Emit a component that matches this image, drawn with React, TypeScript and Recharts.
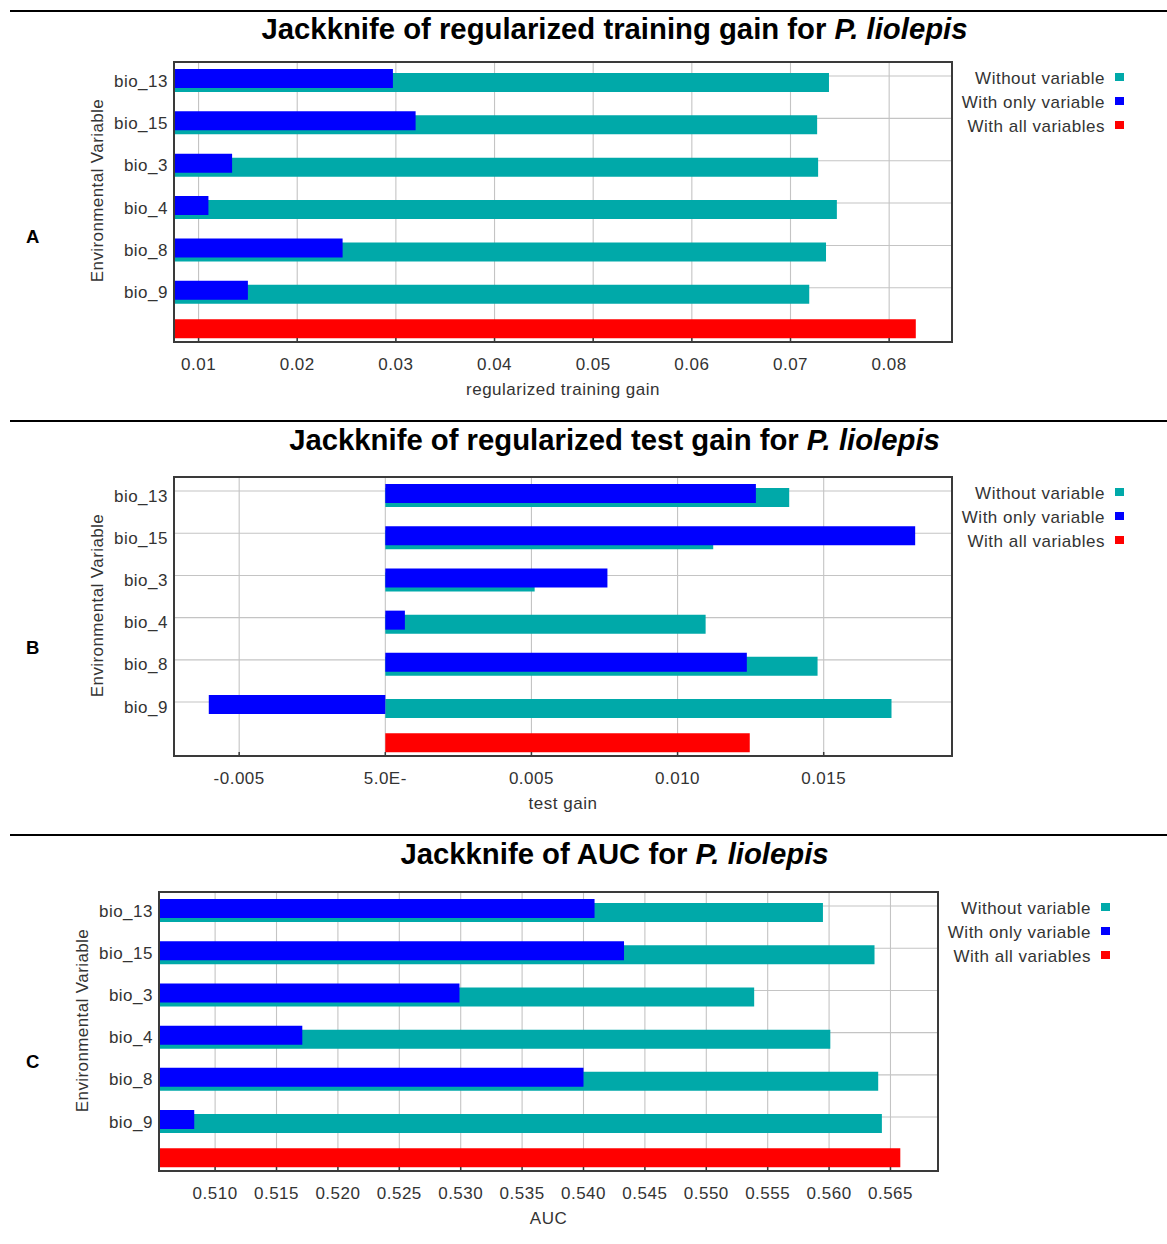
import { BarChart, Bar, XAxis, YAxis, CartesianGrid, Legend, Label } from 'recharts'

const FONT = '"Liberation Sans", Arial, Helvetica, sans-serif'
const INK = '#333333'
const GRID = '#c4c4c4'
const FRAME = '#3a3a3a'

const variables = ['bio_13', 'bio_15', 'bio_3', 'bio_4', 'bio_8', 'bio_9']
const seriesNames = ['Without variable', 'With only variable', 'With all variables']
const seriesColors = ['#00a9a9', '#0000ff', '#ff0000']

// A: regularized training gain
const trainingWithout = [0.0739, 0.0727, 0.0728, 0.0747, 0.0736, 0.0719]
const trainingOnly = [0.0297, 0.032, 0.0134, 0.011, 0.0246, 0.015]
const trainingAll = 0.0827
const trainingTicks = [0.01, 0.02, 0.03, 0.04, 0.05, 0.06, 0.07, 0.08]

// B: test gain
const testWithout = [0.01382, 0.01122, 0.00511, 0.01096, 0.01479, 0.01732]
const testOnly = [0.01268, 0.01813, 0.0076, 0.00067, 0.01237, -0.00604]
const testAll = 0.01247
const testTicks = [-0.005, 0, 0.005, 0.01, 0.015]

// C: AUC
const aucWithout = [0.5595, 0.5637, 0.5539, 0.5601, 0.564, 0.5643]
const aucOnly = [0.5409, 0.5433, 0.5299, 0.5171, 0.54, 0.5083]
const aucAll = 0.5658
const aucTicks = [0.51, 0.515, 0.52, 0.525, 0.53, 0.535, 0.54, 0.545, 0.55, 0.555, 0.56, 0.565]

const ALL_ROW = 'all'

// layout
const PAGE_W = 1167
const PAGE_H = 1244
const PLOT_TOP = 62
const Y_AXIS_W = 80
const X_AXIS_H = 60
const BAR_SIZE = 19
const BAR_GAP = -23
const PAD_TOP = -5
const PAD_BOTTOM = -11.5
const separators = [10, 420, 834]

type Row = { name: string; without: number | null; only: number | null; all: number | null }

function buildRows(without: number[], only: number[], all: number): Row[] {
  const rows: Row[] = variables.map((name, i) => ({ name, without: without[i], only: only[i], all: null }))
  rows.push({ name: ALL_ROW, without: null, only: null, all })
  return rows
}

function JackknifeLegend(props: any) {
  const items = [...(props.payload ?? [])].sort(
    (a, b) => seriesNames.indexOf(a.value) - seriesNames.indexOf(b.value),
  )
  return (
    <div style={{ fontFamily: FONT, fontSize: 17, letterSpacing: 0.5, color: INK }}>
      {items.map((item) => (
        <div
          key={item.value}
          style={{ display: 'flex', justifyContent: 'flex-end', height: 24, lineHeight: '24px', whiteSpace: 'nowrap' }}
        >
          <span>{item.value}</span>
          <span style={{ width: 9, height: 8, marginTop: 6, marginLeft: 10, background: item.color, flex: 'none' }} />
        </div>
      ))}
    </div>
  )
}

interface PanelProps {
  letter: string
  titleStart: string
  chartTop: number
  titleBaseline: number
  letterTop: number
  plotLeft: number
  plotRight: number
  plotHeight: number
  rows: Row[]
  domain: [number, number]
  ticks: number[]
  formatTick: (v: number) => string
  xTitle: string
}

function Panel(p: PanelProps) {
  const height = PLOT_TOP + p.plotHeight + X_AXIS_H + 8
  const plotW = p.plotRight - p.plotLeft
  const band = (p.plotHeight - PAD_TOP - PAD_BOTTOM) / p.rows.length
  const slot = Math.floor((band - (3 * BAR_SIZE + 2 * BAR_GAP)) / 2)
  const lineInBand = slot + BAR_SIZE + BAR_GAP + 8
  const gridYs = variables.map((_, i) => PLOT_TOP + PAD_TOP + i * band + lineInBand)
  const shift = lineInBand - band / 2
  const tickPadding = { top: PAD_TOP + shift, bottom: PAD_BOTTOM - shift }
  const smallText = { fill: INK, fontSize: 17, fontFamily: FONT, letterSpacing: 0.5 }

  return (
    <div style={{ position: 'absolute', left: 0, top: p.chartTop, width: PAGE_W, height }}>
      <div
        style={{
          position: 'absolute',
          left: 0,
          width: 1229,
          top: p.titleBaseline - 24.8,
          textAlign: 'center',
          font: `bold 29.3px/29.3px ${FONT}`,
          color: '#000',
          whiteSpace: 'nowrap',
        }}
      >
        {p.titleStart} <i>P. liolepis</i>
      </div>
      <div
        style={{
          position: 'absolute',
          left: 22.7,
          width: 20,
          top: p.letterTop,
          textAlign: 'center',
          font: `bold 18.5px/18.5px ${FONT}`,
          color: '#000',
        }}
      >
        {p.letter}
      </div>
      <BarChart
        width={PAGE_W}
        height={height}
        data={p.rows}
        layout="vertical"
        barSize={BAR_SIZE}
        barGap={BAR_GAP}
        margin={{ top: PLOT_TOP, right: PAGE_W - p.plotRight, bottom: 8, left: p.plotLeft - Y_AXIS_W }}
      >
        <CartesianGrid stroke={GRID} strokeWidth={1.1} horizontalPoints={gridYs} />
        <XAxis
          type="number"
          domain={p.domain}
          ticks={p.ticks}
          allowDataOverflow
          interval={0}
          height={X_AXIS_H}
          axisLine={false}
          tickSize={-4}
          tickMargin={20}
          tickLine={{ stroke: FRAME, strokeWidth: 1.5 }}
          tick={(tp: any) => (
            <text x={tp.x} y={tp.y} dy="0.71em" textAnchor="middle" {...smallText}>
              {p.formatTick(tp.payload.value)}
            </text>
          )}
        >
          <Label
            content={(lp: any) => {
              const vb = lp.viewBox
              return (
                <text x={vb.x + vb.width / 2} y={vb.y + 52.5} textAnchor="middle" {...smallText}>
                  {p.xTitle}
                </text>
              )
            }}
          />
        </XAxis>
        <XAxis
          xAxisId="top"
          orientation="top"
          mirror
          type="number"
          domain={p.domain}
          ticks={p.ticks}
          allowDataOverflow
          interval={0}
          axisLine={false}
          tick={false}
          tickSize={4}
          tickLine={{ stroke: FRAME, strokeWidth: 1.5 }}
        />
        <YAxis
          type="category"
          dataKey="name"
          width={Y_AXIS_W}
          padding={{ top: PAD_TOP, bottom: PAD_BOTTOM }}
          axisLine={false}
          tickLine={false}
          tickSize={0}
          tickMargin={6}
          interval={0}
          tick={(tp: any) => (
            <text x={tp.x} y={tp.y + 2.5} dy="0.355em" textAnchor="end" {...smallText}>
              {tp.payload.value === ALL_ROW ? '' : tp.payload.value}
            </text>
          )}
        >
          <Label
            content={(lp: any) => {
              const vb = lp.viewBox
              const cx = vb.x + vb.width - 77.3
              const cy = vb.y + 128.5
              return (
                <text
                  x={cx}
                  y={cy}
                  dy="0.36em"
                  textAnchor="middle"
                  transform={`rotate(-90 ${cx} ${cy})`}
                  {...smallText}
                  letterSpacing={0.4}
                >
                  Environmental Variable
                </text>
              )
            }}
          />
        </YAxis>
        <YAxis
          yAxisId="left-ticks"
          mirror
          type="category"
          dataKey="name"
          ticks={variables}
          padding={tickPadding}
          axisLine={false}
          tick={false}
          tickSize={6}
          tickLine={{ stroke: FRAME, strokeWidth: 1.5 }}
          interval={0}
        />
        <YAxis
          yAxisId="right-ticks"
          orientation="right"
          mirror
          type="category"
          dataKey="name"
          ticks={variables}
          padding={tickPadding}
          axisLine={false}
          tick={false}
          tickSize={6}
          tickLine={{ stroke: FRAME, strokeWidth: 1.5 }}
          interval={0}
        />
        <Bar dataKey="without" name={seriesNames[0]} fill={seriesColors[0]} isAnimationActive={false} />
        <Bar dataKey="only" name={seriesNames[1]} fill={seriesColors[1]} isAnimationActive={false} />
        <Bar dataKey="all" name={seriesNames[2]} fill={seriesColors[2]} isAnimationActive={false} />
        <Legend
          layout="vertical"
          align="center"
          verticalAlign="middle"
          wrapperStyle={{ left: p.plotRight + 20, top: PLOT_TOP + 4.5, width: 152, margin: 0 }}
          content={JackknifeLegend}
        />
      </BarChart>
      <div
        style={{
          position: 'absolute',
          left: p.plotLeft - 1,
          top: PLOT_TOP - 1,
          width: plotW + 2,
          height: p.plotHeight + 2,
          border: `2px solid ${FRAME}`,
          boxSizing: 'border-box',
          pointerEvents: 'none',
        }}
      />
    </div>
  )
}

export default function App() {
  return (
    <div style={{ position: 'absolute', left: 0, top: 0, width: PAGE_W, height: PAGE_H, background: '#fff' }}>
      <Panel
        letter="A"
        titleStart="Jackknife of regularized training gain for"
        chartTop={0}
        titleBaseline={38.3}
        letterTop={227.6}
        plotLeft={174}
        plotRight={952}
        plotHeight={280}
        rows={buildRows(trainingWithout, trainingOnly, trainingAll)}
        domain={[0.00751, 0.08637]}
        ticks={trainingTicks}
        formatTick={(v) => v.toFixed(2)}
        xTitle="regularized training gain"
      />
      <Panel
        letter="B"
        titleStart="Jackknife of regularized test gain for"
        chartTop={415}
        titleBaseline={34.3}
        letterTop={224.3}
        plotLeft={174}
        plotRight={952}
        plotHeight={279}
        rows={buildRows(testWithout, testOnly, testAll)}
        domain={[-0.00723, 0.01939]}
        ticks={testTicks}
        formatTick={(v) => (v === 0 ? '5.0E-' : v.toFixed(3))}
        xTitle="test gain"
      />
      <Panel
        letter="C"
        titleStart="Jackknife of AUC for"
        chartTop={830}
        titleBaseline={33.3}
        letterTop={222.6}
        plotLeft={159}
        plotRight={938}
        plotHeight={279}
        rows={buildRows(aucWithout, aucOnly, aucAll)}
        domain={[0.50543, 0.56887]}
        ticks={aucTicks}
        formatTick={(v) => v.toFixed(3)}
        xTitle="AUC"
      />
      {separators.map((y) => (
        <div key={y} style={{ position: 'absolute', left: 10, right: 0, top: y, height: 2, background: '#000' }} />
      ))}
    </div>
  )
}
